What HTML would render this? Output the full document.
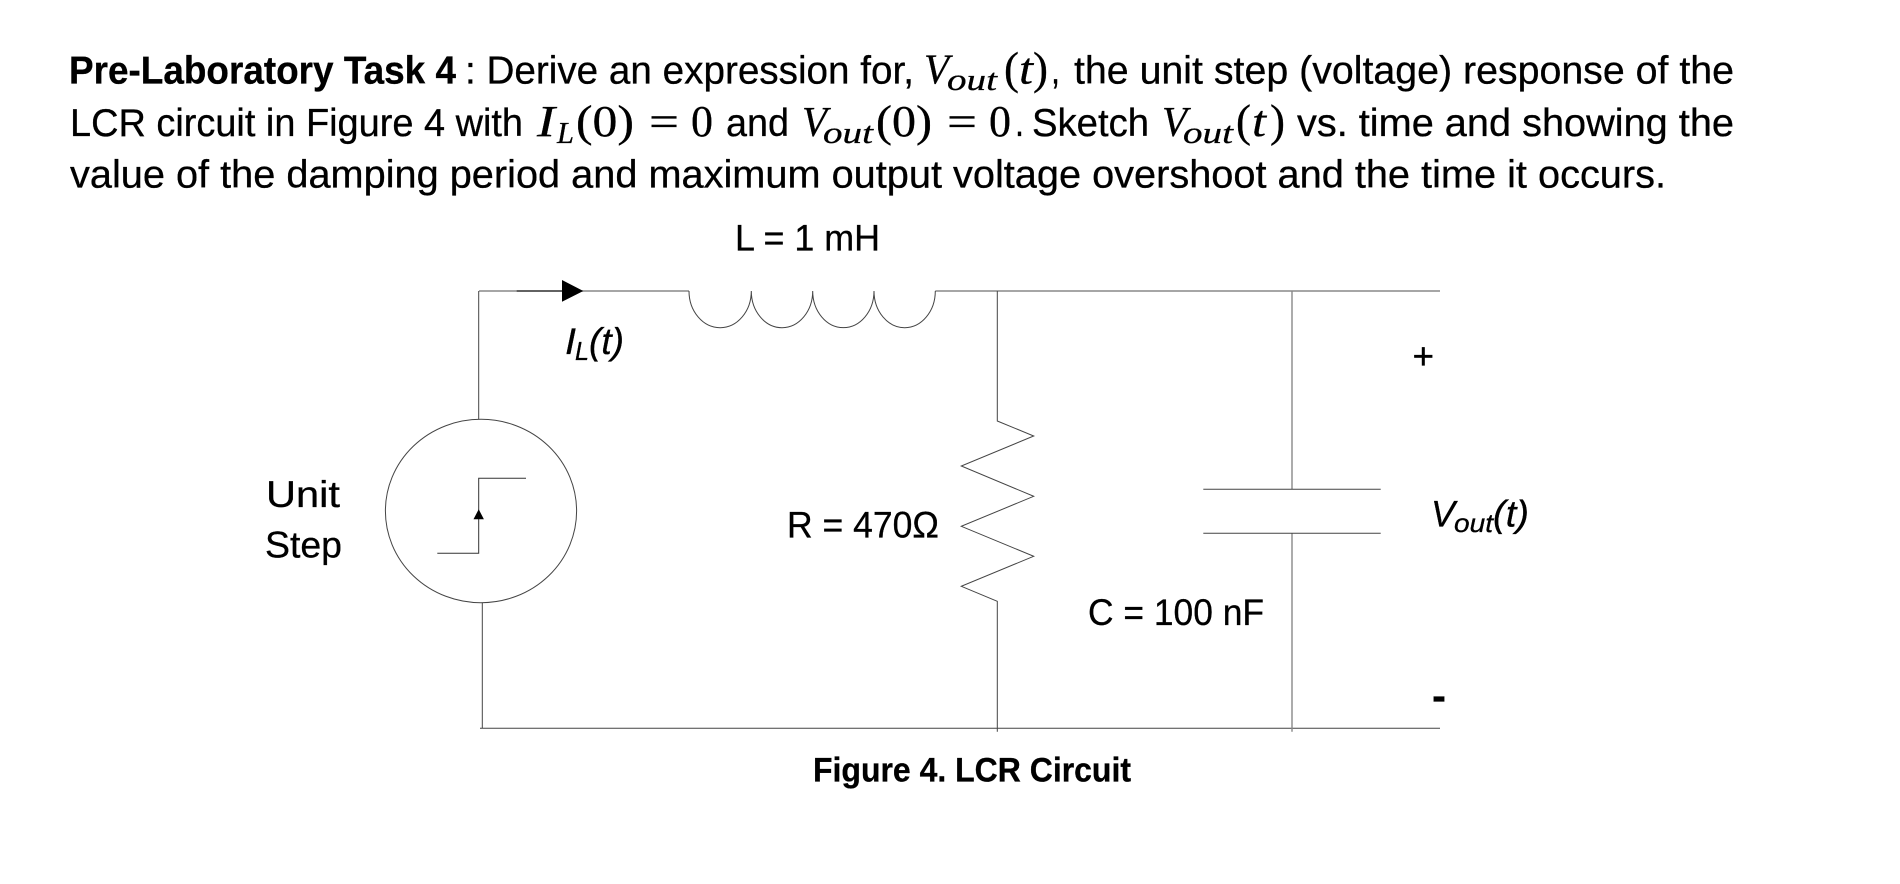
<!DOCTYPE html>
<html><head><meta charset="utf-8"><style>
html,body{margin:0;padding:0;background:#fff;width:1900px;height:884px;overflow:hidden}
svg{display:block}
text{font-family:"Liberation Sans",sans-serif;fill:#000;stroke:#000;stroke-width:.3}
.b{font-weight:bold}
.m{font-family:"Liberation Serif",serif;font-style:italic}
.r{font-family:"Liberation Serif",serif}
.i{font-style:italic}
.w{stroke:#444;stroke-width:1;fill:none}
.g{stroke:#888;stroke-width:1.4;fill:none}
</style></head><body>
<svg width="1900" height="884" viewBox="0 0 1900 884" xmlns="http://www.w3.org/2000/svg">
<rect width="1900" height="884" fill="#fff"/>
<g font-size="39">
<text class="b" x="69" y="83.3" textLength="387" lengthAdjust="spacingAndGlyphs">Pre-Laboratory Task 4</text>
<text x="465" y="83.3" textLength="449" lengthAdjust="spacingAndGlyphs">: Derive an expression for,</text>
<text class="m" x="924" y="83.3" font-size="42" textLength="25" lengthAdjust="spacingAndGlyphs">V</text>
<text class="m" x="947" y="90" font-size="31" textLength="50" lengthAdjust="spacingAndGlyphs">out</text>
<text class="r" x="1004" y="83.3" font-size="46" textLength="15" lengthAdjust="spacingAndGlyphs">(</text>
<text class="m" x="1019" y="83.3" font-size="44" textLength="14" lengthAdjust="spacingAndGlyphs">t</text>
<text class="r" x="1033" y="83.3" font-size="46" textLength="15" lengthAdjust="spacingAndGlyphs">)</text>
<text x="1051" y="83.3" textLength="9" lengthAdjust="spacingAndGlyphs">,</text>
<text x="1074" y="83.3" textLength="660" lengthAdjust="spacingAndGlyphs">the unit step (voltage) response of the</text>

<text x="70" y="136" textLength="453" lengthAdjust="spacingAndGlyphs">LCR circuit in Figure 4 with</text>
<text class="m" x="537" y="136" font-size="44" textLength="18" lengthAdjust="spacingAndGlyphs">I</text>
<text class="m" x="557" y="143" font-size="31" textLength="17" lengthAdjust="spacingAndGlyphs">L</text>
<text class="r" x="576" y="136" font-size="44" textLength="58" lengthAdjust="spacingAndGlyphs">(0)</text>
<text class="r" x="649" y="136" font-size="42" textLength="30" lengthAdjust="spacingAndGlyphs">=</text>
<text class="r" x="691" y="136" font-size="44" textLength="22" lengthAdjust="spacingAndGlyphs">0</text>
<text x="726" y="136" textLength="63" lengthAdjust="spacingAndGlyphs">and</text>
<text class="m" x="802" y="136" font-size="42" textLength="25" lengthAdjust="spacingAndGlyphs">V</text>
<text class="m" x="823" y="143" font-size="31" textLength="50" lengthAdjust="spacingAndGlyphs">out</text>
<text class="r" x="876" y="136" font-size="44" textLength="56" lengthAdjust="spacingAndGlyphs">(0)</text>
<text class="r" x="947" y="136" font-size="42" textLength="30" lengthAdjust="spacingAndGlyphs">=</text>
<text class="r" x="989" y="136" font-size="44" textLength="22" lengthAdjust="spacingAndGlyphs">0</text>
<text x="1015" y="136" textLength="9" lengthAdjust="spacingAndGlyphs">.</text>
<text x="1032" y="136" textLength="117" lengthAdjust="spacingAndGlyphs">Sketch</text>
<text class="m" x="1162" y="136" font-size="42" textLength="25" lengthAdjust="spacingAndGlyphs">V</text>
<text class="m" x="1183" y="143" font-size="31" textLength="50" lengthAdjust="spacingAndGlyphs">out</text>
<text class="r" x="1236" y="136" font-size="46" textLength="15" lengthAdjust="spacingAndGlyphs">(</text>
<text class="m" x="1252" y="136" font-size="44" textLength="14" lengthAdjust="spacingAndGlyphs">t</text>
<text class="r" x="1270" y="136" font-size="46" textLength="15" lengthAdjust="spacingAndGlyphs">)</text>
<text x="1297" y="136" textLength="437" lengthAdjust="spacingAndGlyphs">vs. time and showing the</text>

<text x="70" y="187.7" textLength="1596" lengthAdjust="spacingAndGlyphs">value of the damping period and maximum output voltage overshoot and the time it occurs.</text>
</g>

<g font-size="37">
<text x="735" y="250.7" textLength="145" lengthAdjust="spacingAndGlyphs">L = 1 mH</text>
<text x="266" y="507" textLength="74" lengthAdjust="spacingAndGlyphs">Unit</text>
<text x="265" y="557.7" textLength="77" lengthAdjust="spacingAndGlyphs">Step</text>
<text x="787" y="537.3" textLength="152" lengthAdjust="spacingAndGlyphs">R = 470Ω</text>
<text x="1088" y="625" textLength="176" lengthAdjust="spacingAndGlyphs">C = 100 nF</text>
<text class="i" x="565" y="354" textLength="11" lengthAdjust="spacingAndGlyphs">I</text>
<text class="i" x="575" y="360" font-size="26" textLength="14" lengthAdjust="spacingAndGlyphs">L</text>
<text class="i" x="589" y="354" textLength="35" lengthAdjust="spacingAndGlyphs">(t)</text>
<text class="i" x="1431" y="526.7" textLength="24" lengthAdjust="spacingAndGlyphs">V</text>
<text class="i" x="1454" y="532" font-size="26" textLength="39" lengthAdjust="spacingAndGlyphs">out</text>
<text class="i" x="1493" y="526.7" textLength="36" lengthAdjust="spacingAndGlyphs">(t)</text>
<text x="1412.5" y="369">+</text>
<text x="1432" y="710" font-size="42" font-weight="bold">-</text>
</g>
<text class="b" x="813" y="781.7" font-size="34" textLength="318" lengthAdjust="spacingAndGlyphs">Figure 4. LCR Circuit</text>

<!-- wires -->
<path class="g" d="M479 291H689"/>
<path class="w" d="M478.7 291V419.3"/>
<path class="g" d="M935.3 291H1440"/>
<path class="w" d="M516.7 291H563" style="stroke:#000"/>
<polygon points="562,280 583.3,291 562,301.7" fill="#000"/>
<!-- inductor -->
<path class="w" d="M689 291A31.15 36.7 0 0 0 751.3 291A30.7 36.7 0 0 0 812.7 291A30.65 36.7 0 0 0 874 291A30.65 36.7 0 0 0 935.3 291"/>
<!-- source -->
<ellipse class="w" cx="481" cy="511" rx="95.6" ry="91.7"/>
<path class="w" d="M437.3 553.3H478.7V478.3H526" style="stroke:#333"/>
<polygon points="478.7,509.3 483.9,519.3 473.5,519.3" fill="#000"/>
<path class="w" d="M482.3 602.7V728.3"/>
<path class="w" d="M480 728.3H1440"/>
<!-- resistor -->
<path class="w" d="M997.3 291V421L1033.7 436L961.3 466L1033.7 496.3L961.3 526.3L1033.7 556.3L961.3 586.3L997.3 601.3V731.7"/>
<!-- capacitor -->
<path class="g" d="M1292 291V489.3M1292 533.3V731.7"/>
<path class="w" d="M1203.3 489.3H1380.7M1203.3 533.3H1380.7"/>
</svg>
</body></html>
